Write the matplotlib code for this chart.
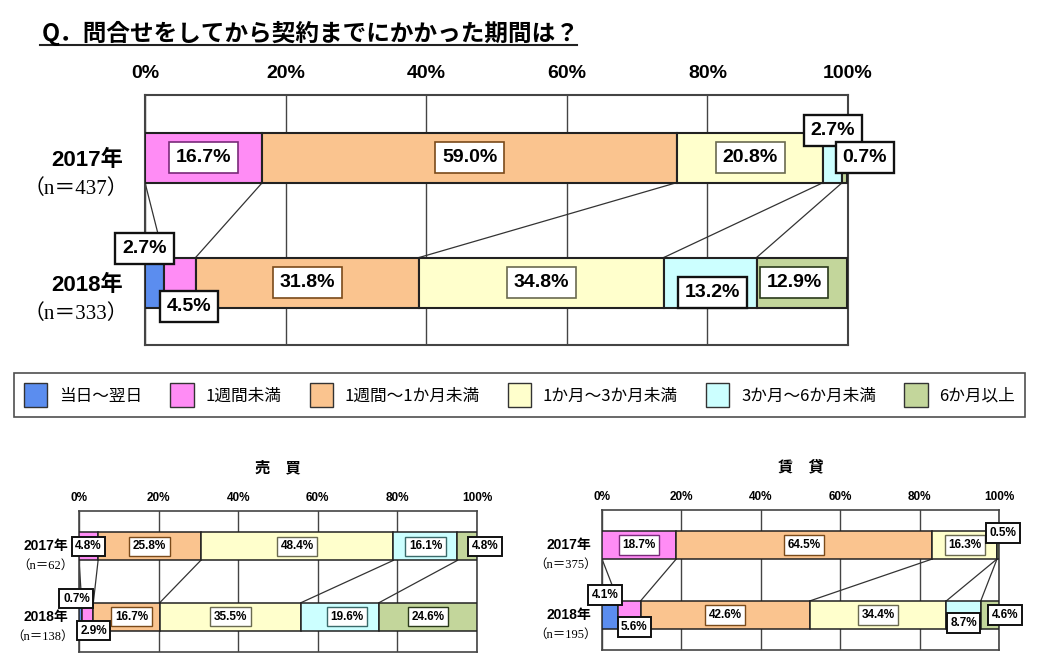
import matplotlib
matplotlib.use("Agg")
import matplotlib.pyplot as plt
from matplotlib.patches import Patch
from matplotlib.lines import Line2D

# categorias e cores
categorias = ["当日～翌日", "1週間未満", "1週間～1か月未満",
              "1か月～3か月未満", "3か月～6か月未満", "6か月以上"]
cores = ["#5B8DEF", "#FF8CF5", "#FAC48F", "#FFFFCC", "#CCFFFF", "#C3D69B"]
bordas = ["#1F3F80", "#7A2A7A", "#7A4A1A", "#6A6A50", "#3A6A6A", "#2A3A1A"]

anos = ["2017年", "2018年"]
ticks = [0, 20, 40, 60, 80, 100]
tick_labels = ["0%", "20%", "40%", "60%", "80%", "100%"]

# total
total_n = ["（n＝437）", "（n＝333）"]
total_2017 = [0.0, 16.7, 59.0, 20.8, 2.7, 0.7]
total_2018 = [2.7, 4.5, 31.8, 34.8, 13.2, 12.9]

# 売買
venda_n = ["（n＝62）", "（n＝138）"]
venda_2017 = [0.0, 4.8, 25.8, 48.4, 16.1, 4.8]
venda_2018 = [0.7, 2.9, 16.7, 35.5, 19.6, 24.6]

# 賃貸
aluguel_n = ["（n＝375）", "（n＝195）"]
aluguel_2017 = [0.0, 18.7, 64.5, 16.3, 0.0, 0.5]
aluguel_2018 = [4.1, 5.6, 42.6, 34.4, 8.7, 4.6]

NUM = ["Liberation Sans", "DejaVu Sans"]
JP = ["Liberation Sans", "Noto Sans CJK JP", "DejaVu Sans"]
SERIF = ["Liberation Serif", "Noto Sans CJK JP", "DejaVu Serif"]
plt.rcParams["font.family"] = ["Noto Sans CJK JP", "DejaVu Sans"]

W, H = 1040, 665
fig = plt.figure(figsize=(W / 100, H / 100), dpi=100)


def px_rect(x0, y0, x1, y1):
    return [x0 / W, 1 - y1 / H, (x1 - x0) / W, (y1 - y0) / H]


def desenha(ax, v17, v18, nlab, est, desloc, fora):
    alt = 0.4
    linhas = [v17, v18]
    acum = []
    for r, vals in enumerate(linhas):
        esq = 0.0
        c = []
        for k, v in enumerate(vals):
            ax.barh(r, v, left=esq, height=alt, color=cores[k],
                    edgecolor="#222", linewidth=est["lw"], zorder=3)
            esq += v
            c.append(esq)
        acum.append(c)

    # linhas de série entre os dois anos
    for k in range(5):
        ax.plot([acum[0][k], acum[1][k]], [alt / 2, 1 - alt / 2],
                color="#333", lw=0.9, zorder=2)

    # rótulos de valor
    for r, vals in enumerate(linhas):
        esq = 0.0
        for k, v in enumerate(vals):
            if v > 0:
                dx, dy = desloc.get((r, k), (0, 0))
                out = (r, k) in fora
                ax.annotate(f"{v:.1f}%", (esq + v / 2, r),
                            xytext=(dx * 0.72, -dy * 0.72), textcoords="offset points",
                            ha="center", va="center", fontsize=est["fs"],
                            fontweight="bold", family=NUM, zorder=6,
                            bbox=dict(boxstyle=f"square,pad={est['pad']}", fc="white",
                                      ec="#111" if out else bordas[k],
                                      lw=est["blw"] * (1.4 if out else 1)))
            esq += v

    ax.set_xlim(0, 100)
    ax.set_ylim(1.5, -0.5)
    ax.set_xticks(ticks)
    ax.set_xticklabels(tick_labels, fontsize=est["tfs"], fontweight="bold", family=NUM)
    ax.xaxis.tick_top()
    ax.tick_params(axis="x", length=0, pad=est["tpad"])
    ax.set_yticks([])
    ax.grid(axis="x", color="#444", lw=1, zorder=1)
    for s in ax.spines.values():
        s.set_color("#444")
        s.set_linewidth(est["slw"])

    for r in range(2):
        ax.annotate(anos[r], (0, r), xycoords=("axes fraction", "data"),
                    xytext=(-est["gap"] * 0.72, -est["ydy"] * 0.72), textcoords="offset points",
                    ha="right", va="center", fontsize=est["yfs"], fontweight="bold", family=JP)
        ax.annotate(nlab[r], (0, r), xycoords=("axes fraction", "data"),
                    xytext=(-est["gap"] * 0.72 + 4, -est["ndy"] * 0.72), textcoords="offset points",
                    ha="right", va="center", fontsize=est["nfs"], family=SERIF)


# gráfico principal
ax = fig.add_axes(px_rect(145, 95, 848, 345))
est_main = dict(lw=1.5, fs=14, pad=0.35, blw=1.2, tfs=14, tpad=9, slw=1.5,
                gap=22, ydy=3, ndy=32, yfs=16, nfs=15)
desloc_main = {(0, 4): (0, -27), (0, 5): (20, 0),
               (1, 0): (-10, -34), (1, 1): (9, 24),
               (1, 4): (2, 10), (1, 5): (-8, 0)}
fora_main = {(0, 4), (0, 5), (1, 0), (1, 1), (1, 4)}
desenha(ax, total_2017, total_2018, total_n, est_main, desloc_main, fora_main)

# 売買
ax1 = fig.add_axes(px_rect(79, 511, 477, 652))
est_sub = dict(lw=1.1, fs=8.5, pad=0.3, blw=1.0, tfs=8.5, tpad=5, slw=1.2,
               gap=11, ydy=0, ndy=20, yfs=10, nfs=9)
desloc_v = {(0, 5): (18, 0), (1, 0): (-4, -18), (1, 1): (6, 14),
            (1, 2): (5, 0), (1, 4): (7, 0)}
fora_v = {(0, 1), (0, 5), (1, 0), (1, 1)}
desenha(ax1, venda_2017, venda_2018, venda_n, est_sub, desloc_v, fora_v)
ax1.set_title("売　買", fontsize=11, fontweight="bold", pad=28)

# 賃貸
ax2 = fig.add_axes(px_rect(602, 510, 999, 650))
desloc_a = {(0, 5): (5, -12), (1, 0): (-5, -20), (1, 1): (5, 12),
            (1, 4): (0, 8), (1, 5): (15, 0)}
fora_a = {(0, 5), (1, 0), (1, 1), (1, 4), (1, 5)}
desenha(ax2, aluguel_2017, aluguel_2018, aluguel_n, est_sub, desloc_a, fora_a)
ax2.set_title("賃　貸", fontsize=11, fontweight="bold", pad=28)

# legenda
handles = [Patch(facecolor=c, edgecolor="#333", lw=1) for c in cores]
fig.legend(handles, categorias, loc="lower left", ncol=6, mode="expand",
           bbox_to_anchor=(14 / W, 1 - 417 / H, 1011 / W, 50 / H),
           fontsize=12, frameon=True, fancybox=False, edgecolor="#222",
           handlelength=1.4, handleheight=1.8, handletextpad=0.7,
           borderaxespad=0, borderpad=0.6)
fig.legends[0].get_frame().set_linewidth(1.2)

# título
fig.text(42 / W, 1 - 33 / H, "Q．問合せをしてから契約までにかかった期間は？",
         fontsize=17, fontweight="bold", ha="left", va="center")
fig.add_artist(Line2D([40 / W, 577 / W], [1 - 45 / H, 1 - 45 / H], color="#222", lw=1.5))

fig.savefig("out.png", dpi=100)
